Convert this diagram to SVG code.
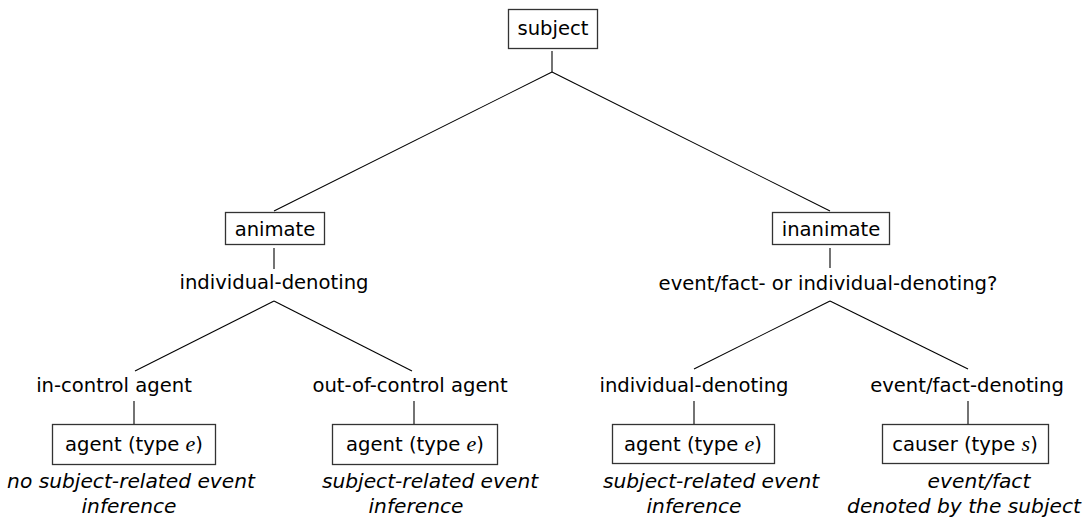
<svg xmlns="http://www.w3.org/2000/svg" width="1088" height="518" viewBox="0 0 1088 518">
<style>
text{font-family:"DejaVu Sans",sans-serif;font-size:19.6px;fill:#000;text-anchor:middle}
.it{font-style:italic;font-size:20.2px}
.m{font-family:"Liberation Serif",serif;font-style:italic;font-size:22px}
rect{fill:#fff;stroke:#333;stroke-width:1.3}
#connectors line{stroke:#000;stroke-width:1.1}
</style>
<rect x="0" y="0" width="1088" height="518" style="stroke:none"/>
<g id="connectors">
<line x1="552" y1="51" x2="552" y2="72"/>
<line x1="552" y1="72" x2="274" y2="211"/>
<line x1="552" y1="72" x2="830" y2="211"/>
<line x1="274" y1="248" x2="274" y2="269"/>
<line x1="830" y1="248" x2="830" y2="268"/>
<line x1="274" y1="301" x2="135" y2="371"/>
<line x1="274" y1="301" x2="412" y2="371"/>
<line x1="830" y1="301" x2="694" y2="369"/>
<line x1="830" y1="301" x2="968" y2="369"/>
<line x1="134" y1="401" x2="134" y2="424"/>
<line x1="414" y1="401" x2="414" y2="424"/>
<line x1="694" y1="401" x2="694" y2="424"/>
<line x1="968" y1="401" x2="968" y2="424"/>
</g>
<g id="subject"><rect x="508.5" y="9.5" width="89" height="39"/><text x="553" y="35">subject</text></g>
<g id="animate"><rect x="225.5" y="212.5" width="99" height="32"/><text x="275" y="236">animate</text><text x="274" y="289">individual-denoting</text></g>
<g id="inanimate"><rect x="772.5" y="212.5" width="117" height="32"/><text x="831" y="236">inanimate</text><text x="828" y="290">event/fact- or individual-denoting?</text></g>
<g id="in-control"><text x="114" y="392">in-control agent</text></g>
<g id="out-of-control"><text x="410" y="392">out-of-control agent</text></g>
<g id="individual-denoting"><text x="694" y="392">individual-denoting</text></g>
<g id="event-fact-denoting"><text x="967" y="392">event/fact-denoting</text></g>
<g id="agent1"><rect x="52.5" y="424.5" width="163" height="40"/><text x="134" y="451">agent (type <tspan class="m">e</tspan>)</text>
<text class="it" x="131" y="488">no subject-related event</text><text class="it" x="129" y="513">inference</text></g>
<g id="agent2"><rect x="332.5" y="424.5" width="165" height="40"/><text x="415" y="451">agent (type <tspan class="m">e</tspan>)</text>
<text class="it" x="430" y="488">subject-related event</text><text class="it" x="416" y="513">inference</text></g>
<g id="agent3"><rect x="612.5" y="424.5" width="162" height="39"/><text x="693" y="451">agent (type <tspan class="m">e</tspan>)</text>
<text class="it" x="711" y="488">subject-related event</text><text class="it" x="694" y="513">inference</text></g>
<g id="causer"><rect x="882.5" y="424.5" width="166" height="39"/><text x="965" y="451">causer (type <tspan class="m">s</tspan>)</text>
<text class="it" x="979" y="488">event/fact</text><text class="it" x="964" y="513">denoted by the subject</text></g>
</svg>
